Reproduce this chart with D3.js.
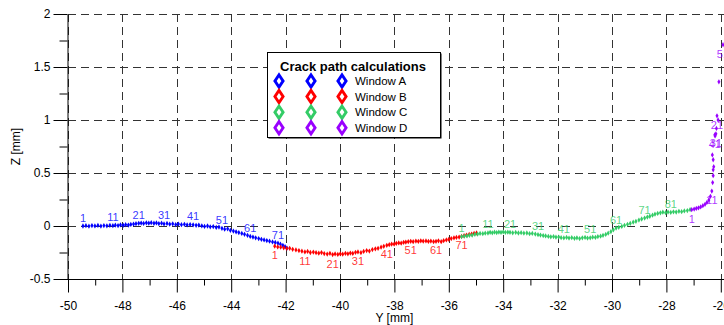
<!DOCTYPE html>
<html>
<head>
<meta charset="utf-8">
<script src="https://cdn.jsdelivr.net/npm/d3@7"></script>
<style>
  body { margin: 0; background: #fff; }
  svg { display: block; }
  svg text { font-family: "Liberation Sans", Arial, sans-serif; }
</style>
</head>
<body>
<svg id="chart" width="724" height="325"></svg>
<script>
// Window A
const aY = [-49.45,-49.34,-49.23,-49.12,-49.01,-48.90,-48.79,-48.68,-48.57,-48.46,
  -48.35,-48.26,-48.16,-48.07,-47.97,-47.88,-47.78,-47.69,-47.59,-47.50,
  -47.40,-47.31,-47.22,-47.12,-47.03,-46.94,-46.84,-46.75,-46.66,-46.56,
  -46.47,-46.36,-46.26,-46.15,-46.04,-45.94,-45.83,-45.72,-45.62,-45.51,
  -45.40,-45.29,-45.19,-45.08,-44.98,-44.87,-44.77,-44.66,-44.55,-44.45,
  -44.34,-44.24,-44.13,-44.03,-43.92,-43.82,-43.72,-43.61,-43.51,-43.40,
  -43.30,-43.20,-43.10,-42.99,-42.89,-42.79,-42.69,-42.59,-42.48,-42.38,
  -42.28,-42.19,-42.10,-42.02,-41.95];
const aZ = [0.000,0.003,-0.002,0.004,0.001,0.005,-0.001,0.004,0.002,0.006,
  0.003,0.008,0.004,0.010,0.006,0.012,0.009,0.015,0.018,0.022,
  0.025,0.028,0.024,0.030,0.027,0.031,0.026,0.029,0.023,0.027,
  0.020,0.024,0.017,0.021,0.014,0.018,0.012,0.016,0.010,0.014,
  0.011,0.006,0.009,0.002,-0.004,0.000,-0.008,-0.005,-0.014,-0.010,
  -0.022,-0.030,-0.027,-0.041,-0.048,-0.055,-0.062,-0.070,-0.078,-0.088,
  -0.098,-0.104,-0.112,-0.118,-0.126,-0.132,-0.137,-0.143,-0.150,-0.155,
  -0.162,-0.172,-0.182,-0.195,-0.208];

// Window B
const bY = [-42.40,-42.29,-42.18,-42.07,-41.96,-41.85,-41.74,-41.62,-41.51,-41.40,
  -41.29,-41.19,-41.09,-40.98,-40.88,-40.78,-40.68,-40.58,-40.47,-40.37,
  -40.27,-40.18,-40.08,-39.99,-39.90,-39.80,-39.71,-39.62,-39.53,-39.43,
  -39.34,-39.23,-39.13,-39.02,-38.92,-38.81,-38.70,-38.60,-38.49,-38.39,
  -38.28,-38.19,-38.10,-38.01,-37.93,-37.84,-37.75,-37.66,-37.58,-37.49,
  -37.40,-37.31,-37.21,-37.12,-37.03,-36.94,-36.84,-36.75,-36.66,-36.56,
  -36.47,-36.38,-36.28,-36.19,-36.09,-36.00,-35.91,-35.81,-35.72,-35.62,
  -35.53,-35.44,-35.35,-35.25,-35.16,-35.07,-34.98];
const bZ = [-0.190,-0.197,-0.200,-0.206,-0.212,-0.210,-0.220,-0.226,-0.232,-0.238,
  -0.245,-0.240,-0.250,-0.246,-0.252,-0.256,-0.251,-0.260,-0.265,-0.258,
  -0.270,-0.264,-0.268,-0.262,-0.266,-0.258,-0.262,-0.255,-0.259,-0.248,
  -0.245,-0.252,-0.240,-0.232,-0.236,-0.222,-0.215,-0.210,-0.200,-0.192,
  -0.182,-0.176,-0.170,-0.172,-0.163,-0.160,-0.162,-0.154,-0.152,-0.148,
  -0.145,-0.148,-0.142,-0.146,-0.140,-0.143,-0.141,-0.146,-0.142,-0.148,
  -0.145,-0.140,-0.148,-0.138,-0.132,-0.126,-0.118,-0.112,-0.108,-0.104,
  -0.098,-0.092,-0.086,-0.080,-0.076,-0.070,-0.066];

// Window C
const cY = [-35.53,-35.43,-35.33,-35.24,-35.14,-35.04,-34.94,-34.85,-34.75,-34.66,
  -34.56,-34.48,-34.40,-34.32,-34.24,-34.16,-34.08,-34.00,-33.92,-33.83,
  -33.75,-33.65,-33.54,-33.44,-33.34,-33.24,-33.13,-33.03,-32.93,-32.82,
  -32.72,-32.63,-32.53,-32.44,-32.34,-32.25,-32.15,-32.06,-31.96,-31.87,
  -31.77,-31.67,-31.58,-31.48,-31.38,-31.29,-31.19,-31.09,-30.99,-30.90,
  -30.80,-30.71,-30.61,-30.52,-30.42,-30.33,-30.23,-30.14,-30.04,-29.95,
  -29.85,-29.75,-29.64,-29.54,-29.43,-29.33,-29.22,-29.12,-29.01,-28.91,
  -28.80,-28.70,-28.61,-28.51,-28.42,-28.32,-28.22,-28.13,-28.03,-27.94,
  -27.84,-27.74,-27.64,-27.54,-27.44,-27.34,-27.23,-27.13];
const cZ = [-0.100,-0.096,-0.094,-0.088,-0.085,-0.078,-0.076,-0.070,-0.072,-0.068,
  -0.066,-0.060,-0.064,-0.058,-0.062,-0.057,-0.061,-0.056,-0.060,-0.058,
  -0.060,-0.064,-0.061,-0.066,-0.063,-0.068,-0.066,-0.072,-0.070,-0.076,
  -0.082,-0.086,-0.090,-0.094,-0.098,-0.102,-0.100,-0.106,-0.104,-0.110,
  -0.113,-0.108,-0.114,-0.110,-0.116,-0.111,-0.118,-0.112,-0.108,-0.114,
  -0.112,-0.106,-0.108,-0.100,-0.096,-0.088,-0.080,-0.068,-0.052,-0.036,
  -0.020,-0.012,-0.004,0.006,0.016,0.024,0.036,0.044,0.056,0.066,
  0.075,0.084,0.092,0.102,0.112,0.118,0.124,0.130,0.126,0.132,
  0.128,0.134,0.131,0.138,0.135,0.142,0.146,0.154];

// Window D (most of it runs off the right edge)
const dY = [-27.07,-26.98,-26.90,-26.82,-26.74,-26.66,-26.58,-26.51,-26.44,-26.38,
  -26.33,-26.30,-26.28,-26.28,-26.26,-26.28,-26.31,-26.21,-26.16,-26.10,
  -26.14,-26.07,-25.80,-25.72,-25.65,-25.60,-25.55,-25.62,-25.70,-25.78,
  -26.18,-25.75,-25.68,-25.60,-25.52,-25.48,-25.50,-25.58,-25.66,-25.74,
  -26.22,-25.80,-25.72,-25.64,-25.58,-25.55,-25.60,-25.68,-25.76,-25.84,
  -25.92];
const dZ = [0.154,0.160,0.166,0.172,0.180,0.192,0.205,0.222,0.245,0.280,
  0.330,0.410,0.475,0.530,0.560,0.625,0.670,0.850,0.920,1.000,
  1.040,1.360,1.420,1.300,1.180,1.050,0.960,0.900,0.880,0.870,
  0.870,0.900,0.950,1.020,1.100,1.200,1.300,1.380,1.420,1.400,
  0.860,1.000,1.100,1.200,1.300,1.400,1.500,1.580,1.640,1.690,
  1.710];

const windowNames = ['Window A', 'Window B', 'Window C', 'Window D'];
const windowColors = ['#0000ff', '#ff0000', '#33cc66', '#9900ff'];
const labelBelow = [false, true, false, true];
const xTicks = [-50, -48, -46, -44, -42, -40, -38, -36, -34, -32, -30, -28, -26, -24];
const yTicks = [-0.5, 0, 0.5, 1, 1.5, 2];

const series = [[aY, aZ], [bY, bZ], [cY, cZ], [dY, dZ]].map((s, k) => ({
  name: windowNames[k],
  color: windowColors[k],
  below: labelBelow[k],
  pts: s[0].map((v, i) => ({ y: v, z: s[1][i], n: i + 1 }))
}));

const svg = d3.select('#chart');

const x = d3.scaleLinear().domain([-50, -24]).range([68, 775.2]);
const y = d3.scaleLinear().domain([-0.5, 2]).range([279, 14]);

// dashed grid
const grid = svg.append('g')
  .attr('stroke', '#333')
  .attr('stroke-width', 1)
  .attr('stroke-dasharray', '8,5');

grid.selectAll('line.v')
  .data(xTicks)
  .enter().append('line')
  .attr('x1', d => Math.round(x(d)) + 0.5)
  .attr('x2', d => Math.round(x(d)) + 0.5)
  .attr('y1', y(2))
  .attr('y2', y(-0.5));

grid.selectAll('line.h')
  .data(yTicks)
  .enter().append('line')
  .attr('x1', x(-50))
  .attr('x2', x(-24))
  .attr('y1', d => Math.round(y(d)) + 0.5)
  .attr('y2', d => Math.round(y(d)) + 0.5);

// axes
const plain = d => String(d);

svg.append('g')
  .attr('transform', 'translate(67.5,0)')
  .call(d3.axisLeft(y).tickValues(yTicks).tickSize(14).tickSizeOuter(0).tickPadding(3)
    .tickFormat(plain));
svg.append('g')
  .attr('transform', 'translate(67.5,0)')
  .call(d3.axisLeft(y).tickValues([-0.25, 0.25, 0.75, 1.25, 1.75]).tickSize(8)
    .tickSizeOuter(0).tickFormat(''))
  .select('.domain').remove();

const xAxis = svg.append('g')
  .attr('transform', 'translate(0,279.5)')
  .call(d3.axisBottom(x).tickValues(xTicks).tickSize(13).tickSizeOuter(0).tickPadding(9)
    .tickFormat(plain));
svg.append('g')
  .attr('transform', 'translate(0,279.5)')
  .call(d3.axisBottom(x).tickValues(d3.range(-49, -24, 2)).tickSize(6)
    .tickSizeOuter(0).tickFormat(''))
  .select('.domain').remove();

xAxis.select('.domain').attr('d', `M67,0H${x(-24)}`);

svg.selectAll('.tick text')
  .attr('font-size', 12)
  .attr('font-family', '"Liberation Sans", Arial, sans-serif')
  .attr('fill', '#000');

// axis titles
svg.append('text')
  .attr('x', (x(-50) + x(-26)) / 2)
  .attr('y', 321.5)
  .attr('text-anchor', 'middle')
  .attr('font-size', 12)
  .text('Y [mm]');

svg.append('text')
  .attr('transform', `translate(20,${(y(2) + y(-0.5)) / 2}) rotate(-90)`)
  .attr('text-anchor', 'middle')
  .attr('font-size', 12)
  .text('Z [mm]');

// points and labels
const dot = d3.symbol().type(d3.symbolDiamond).size(8);

series.forEach(s => {
  const g = svg.append('g');
  g.selectAll('path')
    .data(s.pts)
    .enter().append('path')
    .attr('d', dot)
    .attr('transform', d => `translate(${x(d.y)},${y(d.z)})`)
    .attr('fill', s.color);

  g.selectAll('text')
    .data(s.pts.filter(d => d.n % 10 === 1))
    .enter().append('text')
    .attr('x', d => x(d.y))
    .attr('y', d => y(d.z) + (s.below ? 13 : -4.5))
    .attr('text-anchor', 'middle')
    .attr('font-size', 11)
    .attr('fill', s.color)
    .attr('fill-opacity', 0.8)
    .text(d => d.n);
});

// legend
const lg = svg.append('g');
lg.append('rect')
  .attr('x', 268.5).attr('y', 53.5)
  .attr('width', 173).attr('height', 85)
  .attr('fill', '#000');
lg.append('rect')
  .attr('x', 267.5).attr('y', 52.5)
  .attr('width', 173).attr('height', 85)
  .attr('fill', '#fff')
  .attr('stroke', '#000');

lg.append('text')
  .attr('x', 353).attr('y', 71)
  .attr('text-anchor', 'middle')
  .attr('font-size', 13)
  .attr('font-weight', 'bold')
  .text('Crack path calculations');

const diamond = d3.symbol().type(d3.symbolDiamond).size(44);
series.forEach((s, k) => {
  const cy = 81 + k * 15.6;
  [279, 311, 342].forEach(cx => {
    lg.append('path')
      .attr('d', diamond)
      .attr('transform', `translate(${cx},${cy}) scale(1.15,1)`)
      .attr('fill', '#fff')
      .attr('stroke', s.color)
      .attr('stroke-width', 2.6);
  });
  lg.append('text')
    .attr('x', 355).attr('y', cy + 4)
    .attr('font-size', 11.5)
    .text(s.name);
});
</script>
</body>
</html>
